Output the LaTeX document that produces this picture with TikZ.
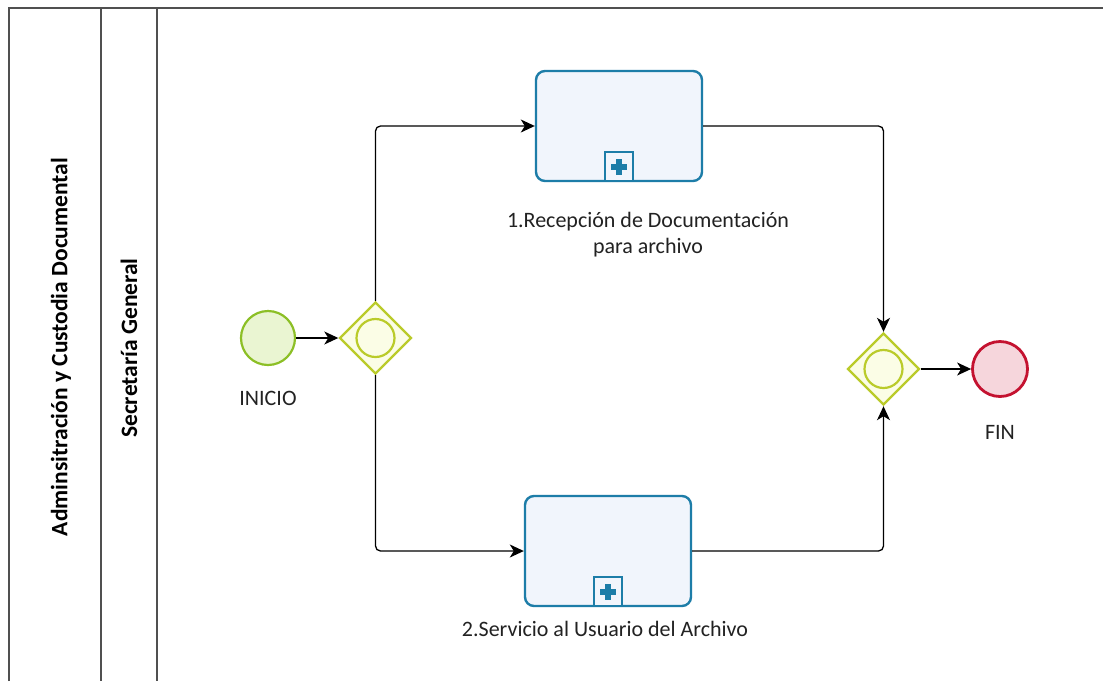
\documentclass[tikz,border=0pt]{standalone}
\usepackage{fontspec}
\setmainfont{Carlito}
\usetikzlibrary{shapes.geometric,arrows.meta,calc}
\definecolor{frameline}{HTML}{505050}
\definecolor{startline}{HTML}{8CBF26}
\definecolor{startfill}{HTML}{EAF5D2}
\definecolor{gwline}{HTML}{BACB2A}
\definecolor{gwfill}{HTML}{FBFDE6}
\definecolor{endline}{HTML}{C41230}
\definecolor{endfill}{HTML}{F6D6DC}
\definecolor{taskline}{HTML}{1D7DA8}
\definecolor{taskfill}{HTML}{F1F5FC}
\definecolor{txt}{HTML}{222222}
\tikzset{
  lane/.style={draw=frameline, line width=1.3pt},
  startev/.style={circle, draw=startline, fill=startfill, line width=2.2pt, minimum size=54pt, inner sep=0pt},
  endev/.style={circle, draw=endline, fill=endfill, line width=2.8pt, minimum size=55pt, inner sep=0pt},
  gateway/.style={diamond, draw=gwline, fill=gwfill, line width=2.4pt, minimum width=72pt, minimum height=72pt, inner sep=0pt, aspect=1},
  gwinner/.style={circle, draw=gwline, line width=2.2pt, minimum size=38pt, inner sep=0pt},
  task/.style={rectangle, rounded corners=9pt, draw=taskline, fill=taskfill, line width=2.4pt, minimum width=166pt, minimum height=110pt, inner sep=0pt},
  marker/.style={rectangle, draw=taskline, fill=taskfill, line width=2pt, minimum width=28pt, minimum height=29pt, inner sep=0pt},
  flow/.style={draw=black, line width=1.3pt, rounded corners=5pt, -{Stealth[length=14pt,width=13pt,inset=4pt]}},
  lbl/.style={text=txt, font=\fontsize{22}{26}\selectfont, align=center, inner sep=0pt},
  lanelbl/.style={text=black, font=\fontsize{23.5}{26}\selectfont\bfseries, rotate=90, inner sep=0pt},
}
\newcommand{\plusmark}[1]{%
  \fill[taskline] ($(#1)+(-8pt,-3pt)$) rectangle ($(#1)+(8pt,3pt)$);
  \fill[taskline] ($(#1)+(-3pt,-8pt)$) rectangle ($(#1)+(3pt,8pt)$);
}
\begin{document}
\begin{tikzpicture}[x=1pt,y=-1pt]
\useasboundingbox (0,0) rectangle (1103,681);
\fill[white] (0,0) rectangle (1103,681);
% pool and lanes
\draw[lane] (9,681) -- (9,8) -- (1103,8);
\draw[lane] (101,8) -- (101,681);
\draw[lane] (157,8) -- (157,681);
\node[lanelbl] (pool) at (61,347) {Adminsitración y Custodia Documental};
\node[lanelbl] (lane1) at (129,348) {Secretaría General};
% events
\node[startev] (start) at (268,338) {};
\node[lbl] (startl) at (268,398) {INICIO};
\node[gateway] (gw1) at (375.5,338) {};
\node[gwinner] (gw1i) at (gw1.center) {};
\node[task] (t1) at (619,126) {};
\node[marker, anchor=south] (m1) at (t1.south) {};
\plusmark{m1.center}
\node[lbl] (t1l) at (648,235) {1.Recepción de Documentación\\para archivo};
\node[task] (t2) at (608,551) {};
\node[marker, anchor=south] (m2) at (t2.south) {};
\plusmark{m2.center}
\node[lbl] (t2l) at (605,629) {2.Servicio al Usuario del Archivo};
\node[gateway] (gw2) at (883.5,369) {};
\node[gwinner] (gw2i) at (gw2.center) {};
\node[endev] (end) at (1000,369) {};
\node[lbl] (endl) at (1000,432) {FIN};
% flows
\draw[flow] (start) -- (gw1);
\draw[flow] (gw1.north) |- (t1.west);
\draw[flow] (gw1.south) |- (t2.west);
\draw[flow] (t1.east) -| (gw2.north);
\draw[flow] (t2.east) -| (gw2.south);
\draw[flow] (gw2) -- (end);
\end{tikzpicture}
\end{document}
